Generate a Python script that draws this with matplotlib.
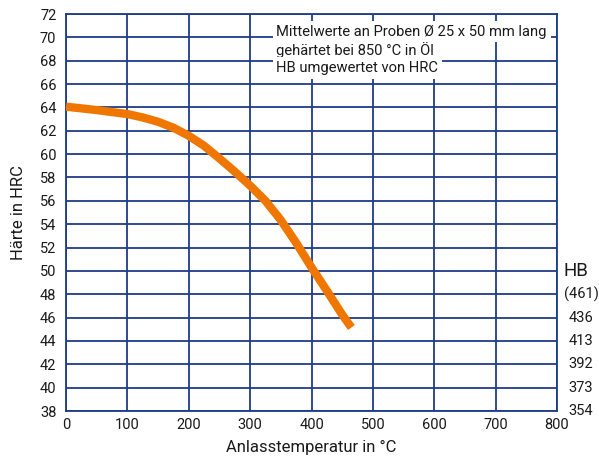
import matplotlib
matplotlib.use("Agg")
import matplotlib.pyplot as plt
import numpy as np

temp = [0, 25, 50, 75, 100, 125, 150, 175, 200, 225, 250, 275, 300,
        325, 350, 375, 400, 425, 450, 465]
hrc = [64.06, 63.92, 63.77, 63.6, 63.43, 63.14, 62.77, 62.26, 61.57, 60.71,
       59.63, 58.5, 57.3, 56.0, 54.35, 52.4, 50.3, 48.3, 46.25, 45.15]
hb_levels = [48, 46, 44, 42, 40, 38]
hb_labels = ["(461)", "436", "413", "392", "373", "354"]
note_lines = ["Mittelwerte an Proben Ø 25 x 50 mm lang",
              "gehärtet bei 850 °C in Öl",
              "HB umgewertet von HRC"]

plt.rcParams['font.family'] = ['Roboto', 'DejaVu Sans']
navy = "#1f3c88"
orange = "#ef7700"
txt = "#1a1a1a"

fig = plt.figure(figsize=(5.99, 4.65), dpi=100)
W, H = 599, 465
x0, x1, y0, y1 = 66, 557, 14, 411
ax = fig.add_axes([x0 / W, 1 - y1 / H, (x1 - x0) / W, (y1 - y0) / H])
ax.set_xlim(0, 800)
ax.set_ylim(38, 72)
ax.set_xticks(np.arange(0, 801, 100))
ax.set_yticks(np.arange(38, 73, 2))
ax.grid(True, color=navy, linewidth=1.3)
ax.set_axisbelow(True)
for s in ax.spines.values():
    s.set_color(navy)
    s.set_linewidth(1.3)
ax.tick_params(length=0, labelsize=10.5, colors=txt, pad=5)
ax.tick_params(axis='y', pad=7)
ax.set_xlabel("Anlasstemperatur in °C", fontsize=12, color=txt, labelpad=6)
ax.set_ylabel("Härte in HRC", fontsize=12, color=txt, labelpad=10)

ax.plot(temp, hrc, color=orange, linewidth=6, solid_capstyle="butt",
        solid_joinstyle="round", zorder=3)


def ax_frac_x(px):
    return (px - x0) / (x1 - x0)


def ax_frac_y(py):
    return 1 - (py - y0) / (y1 - y0)


for i, line in enumerate(note_lines):
    ax.text(ax_frac_x(276.5), ax_frac_y(31.7 + 18.1 * i), line, transform=ax.transAxes,
            ha="left", va="center", fontsize=10.6, color=txt,
            bbox=dict(facecolor="white", edgecolor="none", pad=2.6), zorder=4)

tr = ax.get_yaxis_transform()
for lv, lb in zip(hb_levels, hb_labels):
    ax.text(ax_frac_x(581), lv, lb, transform=tr, ha="center",
            va="center", fontsize=10.5, color=txt, clip_on=False)
ax.text(ax_frac_x(576), 50, "HB", transform=tr, ha="center",
        va="center", fontsize=13.5, color=txt, clip_on=False)

fig.savefig("out.png", dpi=100)
